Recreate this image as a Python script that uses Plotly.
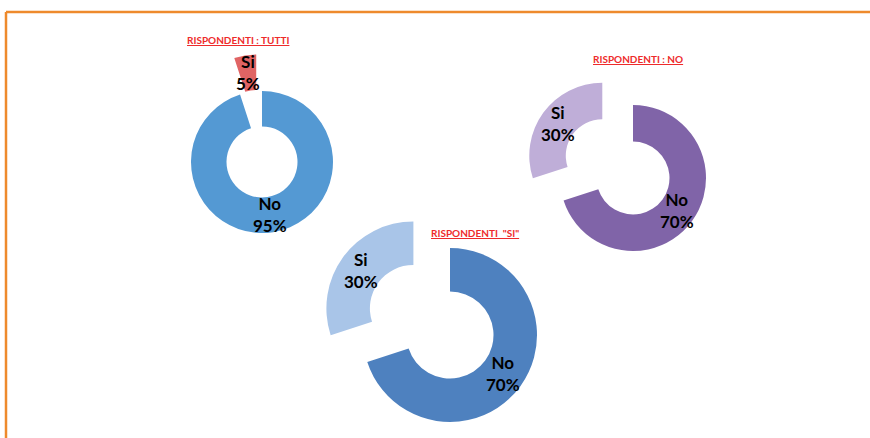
import math
import plotly.graph_objects as go

# Risposte per gruppo di rispondenti
labels = ["No", "Si"]
values_tutti = [95, 5]
values_no = [70, 30]
values_si = [70, 30]
titles = ["RISPONDENTI : TUTTI", "RISPONDENTI : NO", "RISPONDENTI  \"SI\""]

# Colori delle fette (No, Si)
colors_tutti = ["#5499D3", "#E06464"]
colors_no = ["#8064A8", "#BFAED8"]
colors_si = ["#4E81BF", "#A9C5E8"]

W, H = 870, 438
HOLE = 0.5
PULL = 0.52
LABEL_FONT = dict(family="Lato", size=17, color="black", weight="bold")
TITLE_FONT = dict(family="Lato", size=10, color="#EE2B2B", weight="bold")

fig = go.Figure()


def px_domain(cx, cy, r):
    return dict(x=[(cx - r) / W, (cx + r) / W], y=[1 - (cy + r) / H, 1 - (cy - r) / H])


def add_donut(values, colors, cx, cy, r, title, tx, ty):
    total = sum(values)
    spans = []
    start = 0.0
    for v in values:
        end = start + 360.0 * v / total
        spans.append((start, end))
        start = end

    common = dict(labels=labels, values=values, hole=HOLE, sort=False,
                  direction="clockwise", rotation=0, textinfo="none",
                  showlegend=False, hoverinfo="label+percent")

    # anello con la fetta "No"
    fig.add_trace(go.Pie(marker=dict(colors=[colors[0], "rgba(0,0,0,0)"], line=dict(width=0)),
                         domain=px_domain(cx, cy, r), **common))

    # fetta "Si" staccata lungo la sua bisettrice
    mid = math.radians(sum(spans[1]) / 2)
    dx, dy = PULL * r * math.sin(mid), -PULL * r * math.cos(mid)
    fig.add_trace(go.Pie(marker=dict(colors=["rgba(0,0,0,0)", colors[1]], line=dict(width=0)),
                         domain=px_domain(cx + dx, cy + dy, r), **common))

    # etichette al centro di ciascuna fetta
    rm = r * (1 + HOLE) / 2
    for i, (lab, v) in enumerate(zip(labels, values)):
        m = math.radians(sum(spans[i]) / 2)
        ox, oy = (dx, dy) if i == 1 else (0.0, 0.0)
        x = cx + ox + rm * math.sin(m)
        y = cy + oy - rm * math.cos(m)
        fig.add_annotation(x=x / W, y=1 - y / H, xref="paper", yref="paper",
                           text=f"{lab}<br>{round(100 * v / total)}%", showarrow=False,
                           font=LABEL_FONT, xanchor="center", yanchor="middle")

    fig.add_annotation(x=tx / W, y=1 - ty / H, xref="paper", yref="paper",
                       text=f"<u>{title}</u>", showarrow=False, font=TITLE_FONT,
                       xanchor="center", yanchor="middle")


add_donut(values_tutti, colors_tutti, 262, 162, 71, titles[0], 238, 40)
add_donut(values_no, colors_no, 633, 178, 73, titles[1], 638, 59)
add_donut(values_si, colors_si, 450, 335, 87, titles[2], 475, 233)

# cornice arancione
frame = dict(color="#EE8A2C", width=2.5)
fig.add_shape(type="line", xref="paper", yref="paper", x0=6 / W, x1=6 / W, y0=-0.05, y1=1 - 12 / H, line=frame)
fig.add_shape(type="line", xref="paper", yref="paper", x0=6 / W, x1=1.05, y0=1 - 12 / H, y1=1 - 12 / H, line=frame)

fig.update_layout(width=W, height=H, margin=dict(l=0, r=0, t=0, b=0),
                  paper_bgcolor="white", plot_bgcolor="white")

fig.write_html("out.html")
